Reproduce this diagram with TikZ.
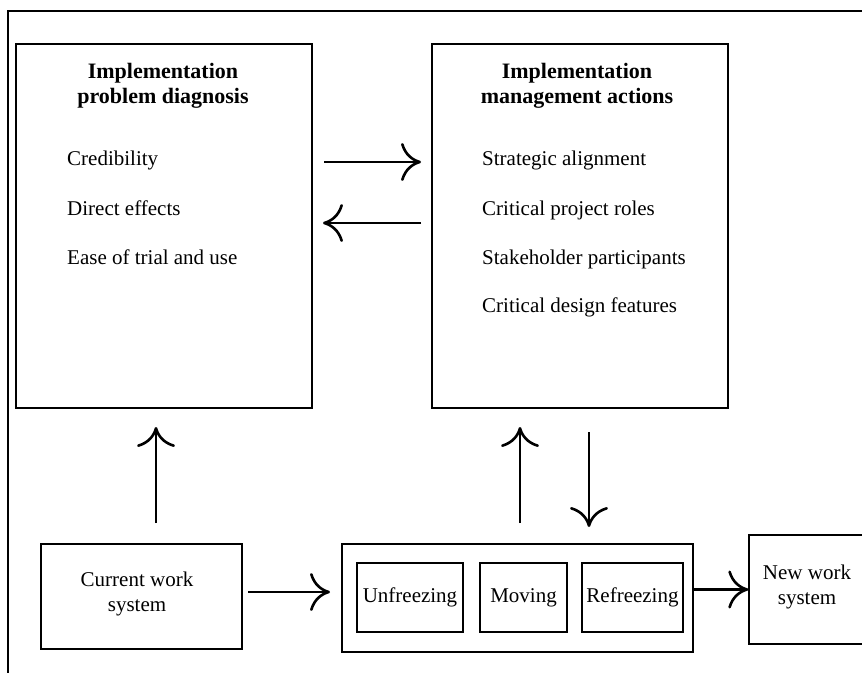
\documentclass[tikz,border=0pt]{standalone}
\usepackage{fontspec}
\setmainfont{Liberation Serif}
\usetikzlibrary{arrows.meta}
\begin{document}
\begin{tikzpicture}[x=1pt,y=-1pt,
  frame/.style={line width=1.3pt},
  panel/.style={draw, line width=1.4pt, rectangle, inner sep=0pt},
  txt/.style={font=\fontsize{21}{25}\selectfont, inner sep=0pt, align=center},
  head/.style={font=\fontsize{22}{25}\selectfont\bfseries, align=center, inner sep=0pt},
  item/.style={font=\fontsize{21}{25}\selectfont, anchor=west, inner sep=0pt},
  flow/.style={line width=2.6pt, -{Computer Modern Rightarrow[length=20pt,width=38pt]}}]

\useasboundingbox (0,0) rectangle (862,672);

% surrounding frame (open to the right and bottom)
\draw[frame] (870,11) -- (8,11) -- (8,680);

% upper panels
\node[panel, minimum width=296pt, minimum height=364pt] (diag) at (164,226) {};
\node[panel, minimum width=296pt, minimum height=364pt] (mgmt) at (580,226) {};

\node[head] (diagT) at (163,86) {Implementation\\problem diagnosis};
\node[item] (d1) at (67,160) {Credibility};
\node[item] (d2) at (67,208) {Direct effects};
\node[item] (d3) at (67,257) {Ease of trial and use};

\node[head] (mgmtT) at (577,86) {Implementation\\management actions};
\node[item] (m1) at (482,160) {Strategic alignment};
\node[item] (m2) at (482,210) {Critical project roles};
\node[item] (m3) at (482,259) {Stakeholder participants};
\node[item] (m4) at (482,307) {Critical design features};

% lower row
\node[panel, minimum width=201pt, minimum height=105pt] (cws) at (141.5,596.5) {};
\node[txt] (cwsT) at (137,594) {Current work\\system};

\node[panel, minimum width=351pt, minimum height=108pt] (proc) at (517.5,598) {};
\node[panel, minimum width=106pt, minimum height=69pt] (unf) at (410,597.5) {};
\node[panel, minimum width=87pt, minimum height=69pt] (mov) at (523.5,597.5) {};
\node[panel, minimum width=101pt, minimum height=69pt] (ref) at (632.5,597.5) {};
\node[txt] (unfT) at (unf) {Unfreezing};
\node[txt] (movT) at (mov) {Moving};
\node[txt] (refT) at (ref) {Refreezing};

\node[panel, minimum width=130pt, minimum height=109pt] (nws) at (814,589.5) {};
\node[txt] (nwsT) at (807,587) {New work\\system};

% arrow end points
\coordinate (a1s) at (324,162);  \coordinate (a1e) at (421,162);
\coordinate (a2s) at (421,223);  \coordinate (a2e) at (323,223);
\coordinate (u1s) at (156,523);  \coordinate (u1e) at (156,427);
\coordinate (u2s) at (520,523);  \coordinate (u2e) at (520,427);
\coordinate (dns) at (589,432);  \coordinate (dne) at (589,527);
\coordinate (c1s) at (248,592);  \coordinate (c1e) at (330,592);
\coordinate (p1s) at (693,589.5);

\draw[flow] (a1s) -- (a1e);
\draw[flow] (a2s) -- (a2e);
\draw[flow] (u1s) -- (u1e);
\draw[flow] (u2s) -- (u2e);
\draw[flow] (dns) -- (dne);
\draw[flow] (c1s) -- (c1e);
\draw[flow] (p1s) -- (nws.west);
\end{tikzpicture}
\end{document}
